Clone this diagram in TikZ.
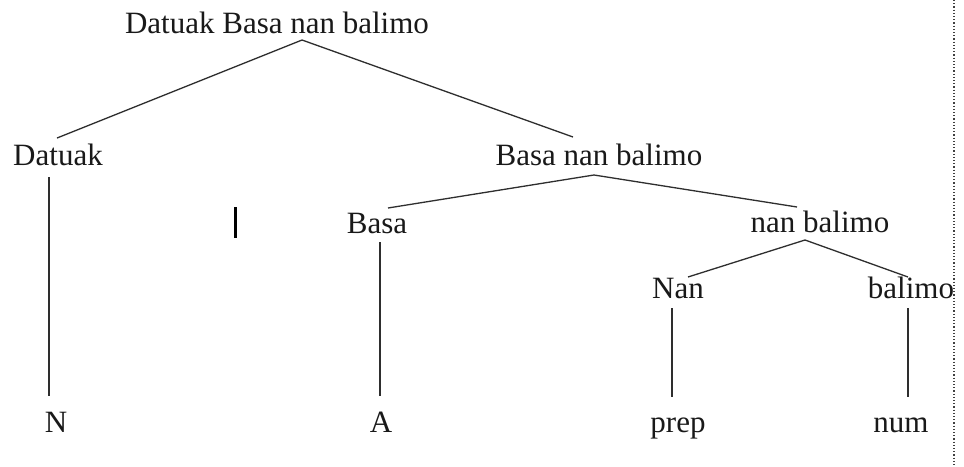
\documentclass[tikz,border=0pt]{standalone}
\usepackage{fontspec}
\setmainfont{Liberation Serif}
\begin{document}
\begin{tikzpicture}[x=1pt,y=1pt,
  word/.style={anchor=base,inner sep=0pt,text=black!90,font=\fontsize{31}{36}\selectfont},
  branch/.style={draw=black!82,line width=1.3pt}]
\useasboundingbox (0,0) rectangle (964,-466);
\fill[white] (0,0) rectangle (964,-466);

% tree labels, placed on their baselines
\node[word] (top)    at (277,-33)  {Datuak Basa nan balimo};
\node[word] (datuak) at (58,-165)  {Datuak};
\node[word] (bnb)    at (599,-165) {Basa nan balimo};
\node[word] (basa)   at (377,-233) {Basa};
\node[word] (nb)     at (820,-232) {nan balimo};
\node[word] (nan)    at (678,-298) {Nan};
\node[word] (bal)    at (911,-298) {balimo};
\node[word] (N)      at (56,-432)  {N};
\node[word] (A)      at (381,-432) {A};
\node[word] (prep)   at (678,-432) {prep};
\node[word] (num)    at (901,-432) {num};

% branches
\draw[branch] ([xshift=-1pt,yshift=27pt]datuak.base) -- ([xshift=25pt,yshift=-7pt]top.base)
              -- ([xshift=-26pt,yshift=28pt]bnb.base);
\draw[branch] ([xshift=-9pt,yshift=-12pt]datuak.base) -- ([xshift=-7pt,yshift=36pt]N.base);
\draw[branch] ([xshift=11pt,yshift=25pt]basa.base) -- ([xshift=-5pt,yshift=-10pt]bnb.base)
              -- ([xshift=-23pt,yshift=25pt]nb.base);
\draw[branch] ([xshift=3pt,yshift=-9pt]basa.base) -- ([xshift=-1pt,yshift=36pt]A.base);
\draw[branch] ([xshift=10pt,yshift=21pt]nan.base) -- ([xshift=-15pt,yshift=-8pt]nb.base)
              -- ([xshift=-3pt,yshift=21pt]bal.base);
\draw[branch] ([xshift=-6pt,yshift=-10pt]nan.base) -- ([xshift=-6pt,yshift=35pt]prep.base);
\draw[branch] ([xshift=-3pt,yshift=-10pt]bal.base) -- ([xshift=7pt,yshift=35pt]num.base);

% text cursor mark
\draw[black,line width=3pt] (235,-207) -- (235,-238);

% dotted page edge on the right
\draw[black!75,line width=1.2pt,dotted] (954,0) -- (954,-466);
\end{tikzpicture}
\end{document}
